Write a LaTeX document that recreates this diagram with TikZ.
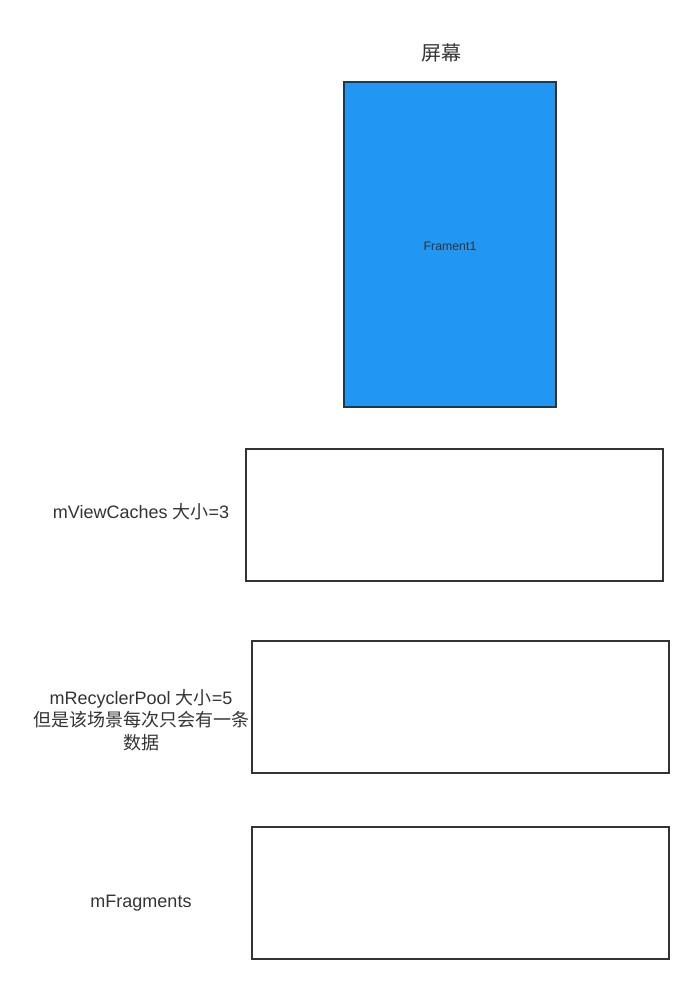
\documentclass[tikz,border=0pt]{standalone}
\usepackage{fontspec}
\setmainfont{Liberation Sans}
\newfontfamily\cjk{Noto Sans CJK SC}
\definecolor{edge}{HTML}{333333}
\definecolor{blue}{HTML}{2196F3}
\begin{document}
\begin{tikzpicture}[x=0.75pt,y=-0.75pt,
  box/.style={draw=edge,line width=1.5pt},
  lbl/.style={text=edge,font=\fontsize{13.5}{16.8}\selectfont,align=center,inner sep=0pt}]
\useasboundingbox (0,0) rectangle (694,984);
\node[text=edge,font=\fontsize{15}{18}\selectfont\cjk] (title) at (441,53) {屏幕};
\draw[box,fill=blue] (344,82) rectangle (556,407);
\node[text=edge,font=\fontsize{9.25}{11}\selectfont] (f1) at (450,246) {Frament1};
\draw[box] (246,449) rectangle (663,581);
\node[lbl] (vc) at (141,512) {mViewCaches {\cjk 大小}=3};
\draw[box] (252,641) rectangle (669,773);
\node[lbl] (rp) at (141,720) {mRecyclerPool {\cjk 大小}=5\\{\cjk 但是该场景每次只会有一条}\\{\cjk 数据}};
\draw[box] (252,827) rectangle (669,959);
\node[lbl] (fr) at (141,903) {mFragments};
\end{tikzpicture}
\end{document}
